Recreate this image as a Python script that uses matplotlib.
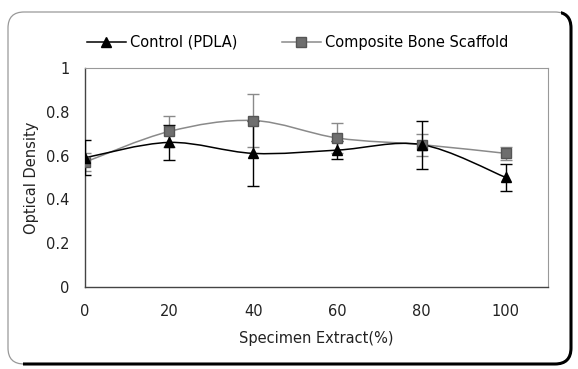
import numpy as np
import matplotlib
matplotlib.use("Agg")
from matplotlib import pyplot as plt
from matplotlib.path import Path
from matplotlib.patches import PathPatch, FancyBboxPatch, Polygon

plt.rcParams['font.family'] = ['DejaVu Sans']

extract = [0, 20, 40, 60, 80, 100]
control = [0.59, 0.66, 0.61, 0.625, 0.65, 0.50]
control_err = [0.08, 0.08, 0.15, 0.04, 0.11, 0.06]
scaffold = [0.57, 0.71, 0.76, 0.68, 0.65, 0.61]
scaffold_err = [0.04, 0.07, 0.12, 0.07, 0.05, 0.03]
y_ticks = [0, 0.2, 0.4, 0.6, 0.8, 1]
y_labels = ["0", "0.2", "0.4", "0.6", "0.8", "1"]


def smooth_path(xs, ys, k=1 / 6):
    # Excel-style smoothed line as cubic bezier segments
    xs = np.asarray(xs, float)
    ys = np.asarray(ys, float)
    verts = [(xs[0], ys[0])]
    codes = [Path.MOVETO]
    n = len(xs)
    for i in range(n - 1):
        p0 = np.array([xs[max(i - 1, 0)], ys[max(i - 1, 0)]])
        p1 = np.array([xs[i], ys[i]])
        p2 = np.array([xs[i + 1], ys[i + 1]])
        p3 = np.array([xs[min(i + 2, n - 1)], ys[min(i + 2, n - 1)]])
        c1 = p1 + (p2 - p0) * k
        c2 = p2 - (p3 - p1) * k
        verts += [tuple(c1), tuple(c2), tuple(p2)]
        codes += [Path.CURVE4] * 3
    return Path(verts, codes)


fig = plt.figure(figsize=(5.78, 3.69), dpi=100)
ax = fig.add_axes([0.147, 0.222, 0.801, 0.594])

ax.add_patch(PathPatch(smooth_path(extract, scaffold), fill=False,
                       edgecolor='#8a8a8a', lw=1.1, zorder=2))
ax.add_patch(PathPatch(smooth_path(extract, control), fill=False,
                       edgecolor='black', lw=1.1, zorder=3))

ax.errorbar(extract, scaffold, yerr=scaffold_err, fmt='none', ecolor='#8a8a8a',
            elinewidth=1, capsize=4, zorder=2)
ax.errorbar(extract, control, yerr=control_err, fmt='none', ecolor='black',
            elinewidth=1, capsize=4, zorder=3)

ax.plot(extract, scaffold, linestyle='none', marker='s', markersize=6.5,
        color='#6e6e6e', markeredgecolor='#555555', zorder=4)
ax.plot(extract, control, linestyle='none', marker='^', markersize=6.5,
        color='black', zorder=5)

# legend handles
h1, = ax.plot([], [], color='black', lw=1.1, marker='^', markersize=6.5)
h2, = ax.plot([], [], color='#8a8a8a', lw=1.1, marker='s', markersize=6.5,
              markerfacecolor='#6e6e6e', markeredgecolor='#555555')
fig.legend([h1, h2], ["Control (PDLA)", "Composite Bone Scaffold"],
           loc='center', bbox_to_anchor=(0.515, 0.885), ncol=2, frameon=False,
           fontsize=10.5, handlelength=2.7, handletextpad=0.3, columnspacing=3.0)

ax.set_xlim(0, 110)
ax.set_ylim(0, 1)
ax.set_xticks(extract)
ax.set_yticks(y_ticks)
ax.set_yticklabels(y_labels)
ax.tick_params(length=0, labelsize=10.5, colors='#222222')
ax.tick_params(axis='x', pad=12)
ax.tick_params(axis='y', pad=11)

for side in ['top', 'right']:
    ax.spines[side].set_color('#999999')
    ax.spines[side].set_linewidth(0.8)
for side in ['left', 'bottom']:
    ax.spines[side].set_color('#444444')
    ax.spines[side].set_linewidth(1.0)

ax.set_xlabel("Specimen Extract(%)", fontsize=10.5, labelpad=9, color='#222222')
ax.set_ylabel("Optical Density", fontsize=10.5, labelpad=5, color='#222222')

# rounded outer border (inch coordinates): faint top/left, heavy bottom/right
box = dict(boxstyle="round,pad=0,rounding_size=0.16",
           transform=fig.dpi_scale_trans, fill=False)
xy, w, h = (0.08, 0.05), 5.63, 3.52
fig.patches.append(FancyBboxPatch(xy, w, h, edgecolor='#999999', lw=0.9, **box))
heavy = FancyBboxPatch(xy, w, h, edgecolor='black', lw=2.2, **box)
clip = Polygon([(0.04, 0), (1, 0), (1, 1), (0.97, 1), (0.97, 0.08), (0.04, 0.08)],
               closed=True, transform=fig.transFigure)
heavy.set_clip_path(clip)
fig.patches.append(heavy)

fig.savefig("out.png", dpi=100)
